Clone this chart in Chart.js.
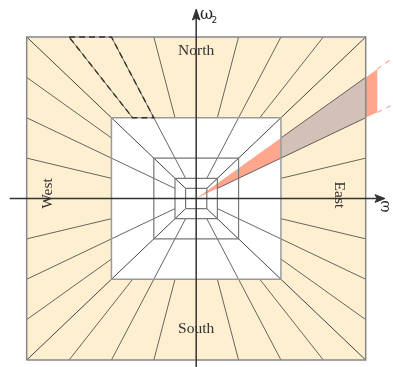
<!DOCTYPE html>
<html><head><meta charset="utf-8">
<script src="https://cdn.jsdelivr.net/npm/chart.js@4.4.1/dist/chart.umd.min.js"></script>
<style>html,body{margin:0;padding:0;background:#fff}#wrap{width:393px;height:367px;position:relative}</style>
</head><body><div id="wrap"><canvas id="c"></canvas></div>
<script>
// ---- data ----
const sideNames = ['North', 'East', 'South', 'West'];
const squareLevels = [1, 0.5, 0.25, 0.125, 0.0625];
const fineRayRatios = [-0.75, -0.25, 0.25, 0.75];   // rays living in the outer ring only
const fineRayFrom = 0.5;
const mediumRayRatios = [-0.5, 0.5];                // rays reaching down to 0.125
const mediumRayFrom = 0.125;
const diagonalRatios = [-1, 1];                     // corner diagonals down to 0.0625
const diagonalFrom = 0.0625;
const eastWedgeRatios = [0.5, 0.75];
const eastWedgeReach = 1.068;
const eastDashReach = 1.2;
const northDashedRatios = [-0.75, -0.5];
const regionLabels = ['North', 'South', 'West', 'East'];
const axisLabels = ['ω', '2', 'ω'];

// ---- layout ----
const X_MIN = -1.1575, X_MAX = 1.1611, Y_MIN = -1.0433, Y_MAX = 1.2291;

function pt(side, s, r) {
  if (side === 'North') return {x: r * s, y: s};
  if (side === 'South') return {x: r * s, y: -s};
  if (side === 'East') return {x: s, y: r * s};
  return {x: -s, y: r * s};
}
function square(s) { return [{x:-s,y:-s},{x:s,y:-s},{x:s,y:s},{x:-s,y:s},{x:-s,y:-s}]; }
function line(points, o) {
  return Object.assign({data: points, showLine: true, pointRadius: 0, pointHoverRadius: 0,
    borderWidth: 1, borderColor: '#444', backgroundColor: 'rgba(0,0,0,0)', fill: false, tension: 0}, o || {});
}

const layers = [];
// outer ring fill
layers.push(line(square(squareLevels[0]), {borderWidth: 0, backgroundColor: '#FEEFD0', fill: 'shape'}));
layers.push(line(square(squareLevels[1]), {borderWidth: 0, backgroundColor: '#FFFFFF', fill: 'shape'}));
// east wedge (salmon)
const w0 = eastWedgeRatios[0], w1 = eastWedgeRatios[1];
layers.push(line([{x:0,y:0}, pt('East', eastWedgeReach, w0), pt('East', eastWedgeReach, w1), {x:0,y:0}],
  {borderWidth: 0, backgroundColor: '#FFA68C', fill: 'shape'}));
// overlap part in the outer ring
layers.push(line([pt('East', squareLevels[1], w0), pt('East', squareLevels[0], w0), pt('East', squareLevels[0], w1), pt('East', squareLevels[1], w1), pt('East', squareLevels[1], w0)],
  {borderWidth: 0, backgroundColor: '#D3C1B8', fill: 'shape'}));
// rays
sideNames.forEach(side => {
  fineRayRatios.forEach(r => layers.push(line([pt(side, fineRayFrom, r), pt(side, 1, r)], {borderColor: '#555', borderWidth: 0.9})));
  mediumRayRatios.forEach(r => layers.push(line([pt(side, mediumRayFrom, r), pt(side, 1, r)], {borderColor: '#555', borderWidth: 0.9})));
});
['North', 'South'].forEach(side => diagonalRatios.forEach(r =>
  layers.push(line([pt(side, diagonalFrom, r), pt(side, 1, r)], {borderColor: '#444', borderWidth: 1}))));
// squares
layers.push(line(square(squareLevels[4]), {borderColor: '#777', borderWidth: 1.2}));
layers.push(line(square(squareLevels[3]), {borderColor: '#777', borderWidth: 1.2}));
layers.push(line(square(squareLevels[2]), {borderColor: '#777', borderWidth: 1.2}));
layers.push(line(square(squareLevels[1]), {borderColor: '#9a9a9a', borderWidth: 1.5}));
layers.push(line(square(squareLevels[0]), {borderColor: '#888', borderWidth: 1.5}));
// dashed north wedge outline
const n0 = northDashedRatios[0], n1 = northDashedRatios[1];
layers.push(line([pt('North', 1, n0), pt('North', 1, n1), pt('North', 0.5, n1), pt('North', 0.5, n0), pt('North', 1, n0)],
  {borderColor: '#333', borderWidth: 1.4, borderDash: [6, 4]}));
// dashed salmon extensions
eastWedgeRatios.forEach(r => layers.push(line([pt('East', eastWedgeReach, r), pt('East', eastDashReach, r)],
  {borderColor: '#FFB49C', borderWidth: 1.4, borderDash: [5, 5]})));
// axes
layers.push(line([{x:-1.1, y:0}, {x:1.08, y:0}], {borderColor: '#333', borderWidth: 1.5}));
layers.push(line([{x:0, y:-1.1}, {x:0, y:1.14}], {borderColor: '#333', borderWidth: 1.5}));
layers.push(line([{x:1.114,y:0},{x:1.055,y:0.024},{x:1.068,y:0},{x:1.055,y:-0.024},{x:1.114,y:0}],
  {borderColor: '#333', borderWidth: 1, backgroundColor: '#333', fill: 'shape'}));
layers.push(line([{x:0,y:1.173},{x:0.022,y:1.105},{x:0,y:1.118},{x:-0.022,y:1.105},{x:0,y:1.173}],
  {borderColor: '#333', borderWidth: 1, backgroundColor: '#333', fill: 'shape'}));

layers.forEach((d, i) => { d.order = layers.length - i; });

const textPlugin = {
  id: 'texts',
  afterDatasetsDraw(chart) {
    const {ctx} = chart; const xs = chart.scales.x, ys = chart.scales.y;
    const P = (vx, vy) => [xs.getPixelForValue(vx), ys.getPixelForValue(vy)];
    ctx.save();
    ctx.fillStyle = '#333';
    ctx.font = '15.5px "Liberation Serif", serif';
    ctx.textAlign = 'center'; ctx.textBaseline = 'alphabetic';
    const pos = [[0, 0.889, 0], [0, -0.83, 0], [-0.848, 0.031, -Math.PI/2], [0.819, 0.022, Math.PI/2]];
    regionLabels.forEach((t, i) => {
      const [px, py] = P(pos[i][0], pos[i][1]);
      ctx.save(); ctx.translate(px, py); ctx.rotate(pos[i][2]); ctx.fillText(t, 0, 0); ctx.restore();
    });
    // omega_2
    ctx.fillStyle = '#222';
    ctx.textAlign = 'left';
    ctx.font = '16px "DejaVu Serif", serif';
    ctx.fillText(axisLabels[0], 200, 19);
    ctx.font = '9px "DejaVu Sans", sans-serif';
    ctx.fillText(axisLabels[1], 211.5, 23);
    // omega_1 (cut at edge)
    ctx.save(); ctx.translate(389, 206.5); ctx.rotate(-Math.PI/2);
    ctx.textAlign = 'center'; ctx.font = '15px "DejaVu Serif", serif';
    ctx.fillText(axisLabels[2], 0, 0); ctx.restore();
    ctx.restore();
  }
};

new Chart(document.getElementById('c'), {
  type: 'scatter',
  data: {datasets: layers},
  options: {
    responsive: true, maintainAspectRatio: false, animation: false, devicePixelRatio: 1,
    layout: {padding: 0},
    events: [],
    scales: {
      x: {type: 'linear', display: false, min: X_MIN, max: X_MAX},
      y: {type: 'linear', display: false, min: Y_MIN, max: Y_MAX}
    },
    plugins: {legend: {display: false}, tooltip: {enabled: false}, title: {display: false}}
  },
  plugins: [textPlugin]
});
</script></body></html>
